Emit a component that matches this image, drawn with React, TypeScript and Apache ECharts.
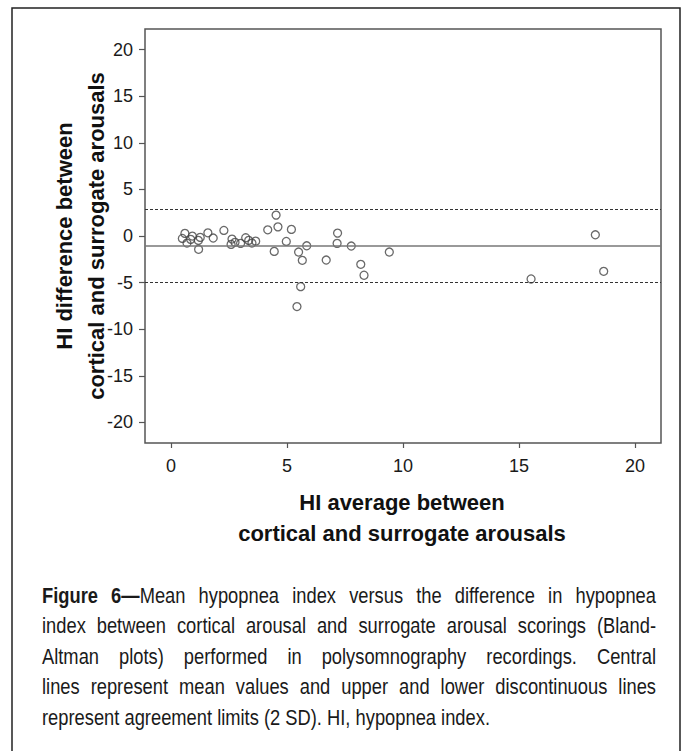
import React, { useEffect, useRef } from "react";
import * as echarts from "echarts";

// HI average between cortical and surrogate arousals (x)
const hiAverage = [
  0.49, 0.6, 0.69, 0.85, 0.92, 1.18, 1.26, 1.19, 1.59, 1.82,
  2.28, 2.63, 2.59, 2.76, 3.0, 3.22, 3.35, 3.49, 3.65, 4.17,
  4.53, 4.61, 4.45, 4.97, 5.19, 5.5, 5.66, 5.59, 5.43, 5.85,
  6.69, 7.18, 7.16, 7.77, 8.18, 8.32, 9.41, 15.52, 18.29, 18.65,
];
// HI difference between cortical and surrogate arousals (y)
const hiDifference = [
  -0.26, 0.28, -0.76, -0.36, -0.01, -0.47, -0.15, -1.43, 0.34, -0.22,
  0.6, -0.33, -0.9, -0.68, -0.79, -0.19, -0.47, -0.76, -0.55, 0.66,
  2.24, 0.98, -1.65, -0.58, 0.71, -1.72, -2.61, -5.43, -7.57, -1.05,
  -2.58, 0.31, -0.79, -1.08, -3.04, -4.21, -1.72, -4.61, 0.13, -3.79,
];
const meanDiff = -1.05;
const upperLimit = 2.85;
const lowerLimit = -4.95;

const xTicks = [0, 5, 10, 15, 20];
const yTicks = [-20, -15, -10, -5, 0, 5, 10, 15, 20];

const yTitle = ["HI difference between", "cortical and surrogate arousals"];
const xTitle = ["HI average between", "cortical and surrogate arousals"];

const captionLines = [
  "Figure 6—Mean hypopnea index versus the difference in hypopnea",
  "index between cortical arousal and surrogate arousal scorings (Bland-",
  "Altman plots) performed in polysomnography recordings. Central",
  "lines represent mean values and upper and lower discontinuous lines",
  "represent agreement limits (2 SD). HI, hypopnea index.",
];

const FONT = "'Liberation Sans', Arial, sans-serif";

function buildCaption(): any[] {
  const canvas = document.createElement("canvas");
  const ctx = canvas.getContext("2d") as CanvasRenderingContext2D;
  const size = 22;
  const measure = (t: string, b: boolean) => {
    ctx.font = `${b ? "bold " : ""}${size}px "Liberation Sans", Arial, sans-serif`;
    return ctx.measureText(t).width;
  };
  const left = 42;
  const right = 656;
  const lastWidth = 448;
  const sx = lastWidth / measure(captionLines[4], false);
  const els: any[] = [];
  captionLines.forEach((line, i) => {
    const words = line.split(" ").map((w) => {
      if (i === 0 && w === "Figure") return [{ t: w, b: true }];
      if (i === 0 && w.startsWith("6—")) return [{ t: "6—", b: true }, { t: w.slice(2), b: false }];
      return [{ t: w, b: false }];
    });
    const widths = words.map((segs) => segs.reduce((s, g) => s + measure(g.t, g.b) * sx, 0));
    const total = widths.reduce((a, b) => a + b, 0);
    const justify = i < captionLines.length - 1;
    const gap = justify ? (right - left - total) / (words.length - 1) : measure(" ", false) * sx;
    let x = left;
    const y = 595 + i * 30.5;
    words.forEach((segs, k) => {
      let pos = x;
      segs.forEach((g) => {
        els.push({
          type: "text",
          x: pos,
          y,
          scaleX: sx,
          silent: true,
          style: {
            text: g.t,
            fill: "#1a1a1a",
            font: `${g.b ? "bold " : ""}${size}px ${FONT}`,
            align: "left",
            verticalAlign: "middle",
          },
        });
        pos += measure(g.t, g.b) * sx;
      });
      x += widths[k] + gap;
    });
  });
  return els;
}

export default function App() {
  const ref = useRef<HTMLDivElement>(null);
  useEffect(() => {
    if (!ref.current) return;
    const chart = echarts.init(ref.current, null, { renderer: "svg" });
    const points = hiAverage.map((x, i) => [x, hiDifference[i]]);
    const axisColor = "#555";
    const option: any = {
      animation: false,
      backgroundColor: "#fff",
      grid: {
        left: 145,
        top: 29,
        width: 516,
        height: 414,
        show: true,
        borderColor: axisColor,
        borderWidth: 1.5,
        backgroundColor: "transparent",
      },
      xAxis: {
        type: "value",
        min: -1.12,
        max: 21.12,
        axisLine: { show: false, onZero: false },
        splitLine: { show: false },
        axisTick: {
          show: true,
          length: 5,
          lineStyle: { color: axisColor, width: 1.2 },
          customValues: xTicks,
        },
        axisLabel: {
          customValues: xTicks,
          margin: 14,
          fontSize: 18,
          fontFamily: FONT,
          color: "#1a1a1a",
        },
      },
      yAxis: {
        type: "value",
        min: -22.2,
        max: 22.2,
        axisLine: { show: false, onZero: false },
        splitLine: { show: false },
        axisTick: {
          show: true,
          length: 6,
          lineStyle: { color: axisColor, width: 1.2 },
          customValues: yTicks,
        },
        axisLabel: {
          customValues: yTicks,
          margin: 12,
          fontSize: 18,
          fontFamily: FONT,
          color: "#1a1a1a",
        },
      },
      series: [
        {
          type: "scatter",
          data: points,
          symbol: "circle",
          symbolSize: 8,
          itemStyle: {
            color: "rgba(255,255,255,0)",
            borderColor: "#444",
            borderWidth: 1.3,
          },
          markLine: {
            silent: true,
            symbol: "none",
            label: { show: false },
            data: [
              { yAxis: meanDiff, lineStyle: { color: "#777", width: 1.6, type: "solid" } },
              { yAxis: upperLimit, lineStyle: { color: "#333", width: 1, type: [3, 2] } },
              { yAxis: lowerLimit, lineStyle: { color: "#333", width: 1, type: [3, 2] } },
            ],
          },
          z: 3,
        },
      ],
      graphic: [
        {
          type: "rect",
          silent: true,
          shape: { x: 12, y: 8, width: 668, height: 800 },
          style: { fill: "none", stroke: "#222", lineWidth: 1.5 },
        },
        {
          type: "text",
          x: 80,
          y: 236,
          rotation: Math.PI / 2,
          silent: true,
          style: {
            text: yTitle.join("\n"),
            font: `bold 22px ${FONT}`,
            fill: "#111",
            align: "center",
            verticalAlign: "middle",
            lineHeight: 32,
          },
        },
        {
          type: "text",
          x: 402,
          y: 518,
          silent: true,
          style: {
            text: xTitle.join("\n"),
            font: `bold 22px ${FONT}`,
            fill: "#111",
            align: "center",
            verticalAlign: "middle",
            lineHeight: 31,
          },
        },
        ...buildCaption(),
      ],
    };
    chart.setOption(option);
    return () => chart.dispose();
  }, []);
  return (
    <div
      ref={ref}
      style={{ position: "fixed", left: 0, top: 0, width: 684, height: 751, background: "#fff" }}
    />
  );
}
